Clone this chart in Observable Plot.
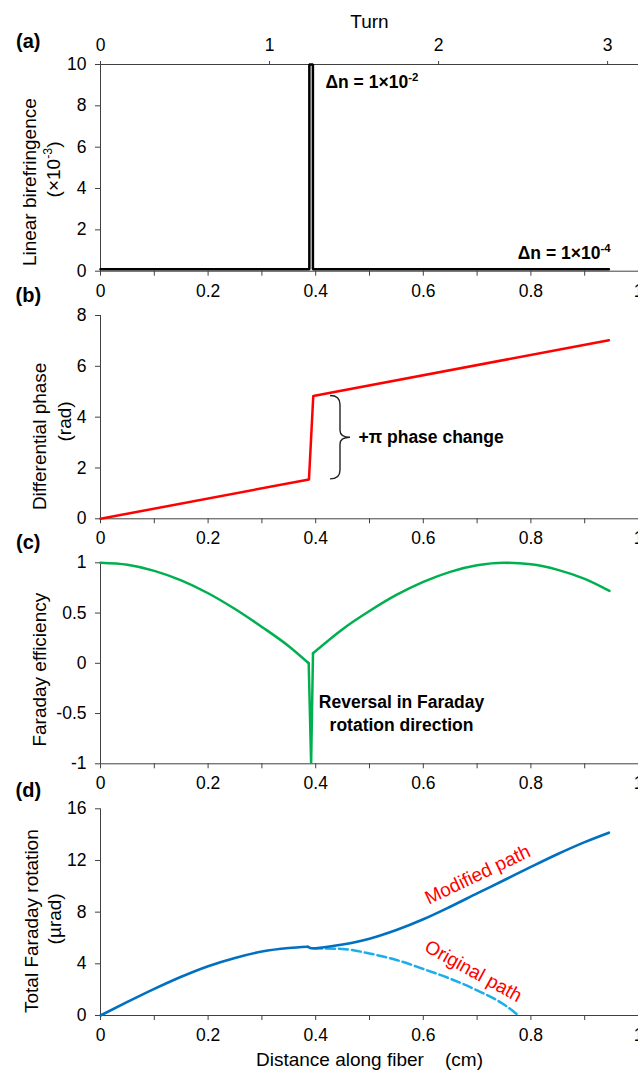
<!DOCTYPE html>
<html><head><meta charset="utf-8">
<script src="https://cdn.jsdelivr.net/npm/d3@7"></script>
<script src="https://cdn.jsdelivr.net/npm/@observablehq/plot@0.6"></script>
<style>
html,body{margin:0;padding:0;overflow:hidden;background:#fff;}
#chart{position:relative;width:638px;height:1071px;}
#chart svg{position:absolute;left:0;}
</style></head><body><div id="chart"></div>
<script>
// ---------- data ----------
const xTickValues = [0,0.1,0.2,0.3,0.4,0.5,0.6,0.7,0.8,0.9,1];
const xTickLabels = ["0","","0.2","","0.4","","0.6","","0.8","","1"];
const turnTicks = [0,1,2,3];
const cmPerTurn = 0.3142;

// (a) linear birefringence (x10^-3)
const biX = [0,0.3882,0.3882,0.3948,0.3948,0.945];
const biY = [0.1,0.1,10,10,0.1,0.1];
const biTicks = [0,2,4,6,8,10];
const biTickLabels = ["0","2","4","6","8","10"];

// (b) differential phase (rad)
const phX = [0,0.3875,0.3955,0.945];
const phY = [0,1.55,4.83,7.03];
const phTicks = [0,2,4,6,8];
const phTickLabels = ["0","2","4","6","8"];

// (c) Faraday efficiency (before the twist, the reversal spike, after the twist)
const feBeforeX = [0,0.05,0.1,0.15,0.2,0.25,0.3,0.35,0.387];
const feBeforeY = [1,0.98,0.92,0.825,0.697,0.54,0.362,0.17,0.0];
const feSpikeX = [0.387,0.3915,0.395];
const feSpikeY = [0.0,-1,0.1];
const feAfterX = [0.395,0.45,0.5,0.55,0.6,0.65,0.7,0.75,0.8,0.85,0.9,0.946];
const feAfterY = [0.1,0.34,0.52,0.68,0.81,0.91,0.975,1.0,0.985,0.93,0.84,0.72];
const feTicks = [-1,-0.5,0,0.5,1];
const feTickLabels = ["-1","-0.5","0","0.5","1"];

// (d) total Faraday rotation (µrad)
const modBeforeX = [0,0.05,0.1,0.15,0.2,0.25,0.3,0.35,0.385];
const modBeforeY = [0,1.05,2.06,3.0,3.82,4.46,4.95,5.22,5.32];
const modDipX = [0.385,0.3915,0.4];
const modDipY = [5.32,5.2,5.21];
const modAfterX = [0.4,0.45,0.5,0.55,0.6,0.65,0.7,0.75,0.8,0.85,0.9,0.945];
const modAfterY = [5.21,5.5,5.95,6.62,7.45,8.42,9.45,10.47,11.5,12.5,13.42,14.15];
const origX = [0.395,0.45,0.5,0.55,0.6,0.65,0.7,0.75,0.777];
const origY = [5.2,5.15,4.8,4.3,3.6,2.85,1.95,0.85,0];
const frTicks = [0,4,8,12,16];
const frTickLabels = ["0","4","8","12","16"];

// ---------- helpers ----------
const FONT = '"Liberation Sans", Arial, Helvetica, sans-serif';
const AX = "#404040";
const chart = document.getElementById("chart");
const toRows = (xs, ys) => xs.map((x, i) => ({x, y: ys[i]}));

function yAxis(ticks, labels) {
  return Plot.axisY(ticks, {anchor: "left", tickSize: 5, tickPadding: 9, stroke: AX, fill: "#000",
    tickFormat: d => labels[ticks.indexOf(d)], label: null});
}
function xAxisBottom() {
  return Plot.axisX(xTickValues, {anchor: "bottom", tickSize: 5, tickPadding: 8, stroke: AX, fill: "#000",
    tickFormat: d => xTickLabels[xTickValues.indexOf(d)], label: null});
}
function panelLabel(s, dy) {
  return Plot.text([s], {text: d => d, frameAnchor: "top-left", lineAnchor: "middle", dx: -72.2, dy, fontSize: 20, fontWeight: "bold", textAnchor: "middle"});
}
function yTitle(s, dx, dy) {
  return Plot.text([s], {text: d => d, frameAnchor: "left", lineAnchor: "middle", rotate: -90, dx, dy, fontSize: 19, textAnchor: "middle"});
}
function tspan(txt) {
  const e = document.createElementNS("http://www.w3.org/2000/svg", "tspan");
  e.textContent = txt; return e;
}
function applySup(svg) {
  for (const t of svg.querySelectorAll("text")) {
    const s = t.textContent;
    if (!s.includes("^{")) continue;
    const fs = parseFloat(getComputedStyle(t).fontSize) || 17;
    t.textContent = "";
    const re = /\^\{([^}]*)\}/g; let last = 0, m, shifted = false;
    while ((m = re.exec(s))) {
      if (m.index > last) {
        const sp = tspan(s.slice(last, m.index));
        if (shifted) { sp.setAttribute("dy", 0.38 * fs); shifted = false; }
        t.append(sp);
      }
      const sup = tspan(m[1]);
      sup.setAttribute("dy", -0.38 * fs);
      sup.setAttribute("font-size", 0.65 * fs);
      t.append(sup); shifted = true; last = re.lastIndex;
    }
    if (last < s.length) {
      const sp = tspan(s.slice(last));
      if (shifted) sp.setAttribute("dy", 0.38 * fs);
      t.append(sp);
    }
  }
}
function panel({top, height, plotTop, plotBottom, yDomain, marks}) {
  const svg = Plot.plot({
    width: 638, height,
    marginLeft: 100, marginRight: 0,
    marginTop: plotTop - top, marginBottom: top + height - plotBottom,
    x: {domain: [0, 1], axis: null},
    y: {domain: yDomain, axis: null},
    style: {fontSize: "17.5px", fontFamily: FONT, background: "transparent", color: "#000", overflow: "visible"},
    marks
  });
  svg.style.top = top + "px";
  chart.append(svg);
  applySup(svg);
}

// ---------- (a) ----------
panel({top: 0, height: 300, plotTop: 64, plotBottom: 270.7, yDomain: [0, 10], marks: [
  Plot.ruleX([0], {stroke: AX}),
  Plot.ruleY([0], {stroke: AX}),
  Plot.ruleY([10], {stroke: AX}),
  yAxis(biTicks, biTickLabels),
  xAxisBottom(),
  Plot.axisX(turnTicks.map(t => t * cmPerTurn), {anchor: "top", tickSize: 4, tickPadding: 10, stroke: AX, fill: "#000",
    tickFormat: d => String(Math.round(d / cmPerTurn)), label: null}),
  Plot.text(["Turn"], {text: d => d, frameAnchor: "top", lineAnchor: "middle", dy: -42.5, fontSize: 19}),
  Plot.line(toRows(biX, biY), {x: "x", y: "y", stroke: "#000", strokeWidth: 2.5, strokeLinejoin: "miter"}),
  Plot.text(["Δn = 1×10^{-2}"], {text: d => d, x: 0.4182, y: 9.15, textAnchor: "start", fontSize: 17.5, fontWeight: "bold"}),
  Plot.text(["Δn = 1×10^{-4}"], {text: d => d, x: 0.948, y: 0.88, textAnchor: "end", fontSize: 17.5, fontWeight: "bold"}),
  panelLabel("(a)", -22.7),
  yTitle("Linear birefringence", -70.8, 14.3),
  yTitle("(×10^{-3})", -47, 1.6)
]});

// ---------- (b) ----------
const braceX = 0.4275;
function brace(index, scales) {
  const x0 = scales.x(braceX);
  const yT = scales.y(phY[2]);
  const yB = scales.y(phY[1]);
  const yM = (yT + yB) / 2;
  const w = 20, h = w / 2;
  const d = `M${x0},${yT} Q${x0 + h},${yT} ${x0 + h},${yT + 9} L${x0 + h},${yM - 7} Q${x0 + h},${yM} ${x0 + w},${yM} Q${x0 + h},${yM} ${x0 + h},${yM + 7} L${x0 + h},${yB - 9} Q${x0 + h},${yB} ${x0},${yB}`;
  return d3.create("svg:path").attr("d", d).attr("fill", "none").attr("stroke", "#222").attr("stroke-width", 1.4).node();
}
panel({top: 270, height: 280, plotTop: 315, plotBottom: 518.3, yDomain: [0, 8], marks: [
  Plot.ruleX([0], {stroke: AX}),
  Plot.ruleY([0], {stroke: AX}),
  yAxis(phTicks, phTickLabels),
  xAxisBottom(),
  Plot.line(toRows(phX, phY), {x: "x", y: "y", stroke: "#ff0000", strokeWidth: 2.5}),
  brace,
  Plot.text(["+π phase change"], {text: d => d, x: 0.4796, y: 3.21, textAnchor: "start", fontSize: 17.5, fontWeight: "bold"}),
  panelLabel("(b)", -19.5),
  yTitle("Differential phase", -61, 19.2),
  yTitle("(rad)", -35.3, 4.3)
]});

// ---------- (c) ----------
const GREEN = "#00b050";
panel({top: 520, height: 280, plotTop: 562.3, plotBottom: 763.3, yDomain: [-1, 1], marks: [
  Plot.ruleX([0], {stroke: AX}),
  Plot.ruleY([-1], {stroke: AX}),
  yAxis(feTicks, feTickLabels),
  xAxisBottom(),
  Plot.line(toRows(feBeforeX, feBeforeY), {x: "x", y: "y", stroke: GREEN, strokeWidth: 2.5, curve: "monotone-x"}),
  Plot.line(toRows(feSpikeX, feSpikeY), {x: "x", y: "y", stroke: GREEN, strokeWidth: 2.5, strokeLinejoin: "miter"}),
  Plot.line(toRows(feAfterX, feAfterY), {x: "x", y: "y", stroke: GREEN, strokeWidth: 2.5, curve: "monotone-x"}),
  Plot.text(["Reversal in Faraday\nrotation direction"], {text: d => d, x: 0.5595, y: -0.483, textAnchor: "middle", lineHeight: 1.335, fontSize: 17.5, fontWeight: "bold"}),
  panelLabel("(c)", -20),
  yTitle("Faraday efficiency", -60.3, 6.4)
]});

// ---------- (d) ----------
const BLUE = "#0070c0";
panel({top: 770, height: 301, plotTop: 808.3, plotBottom: 1015, yDomain: [0, 16], marks: [
  Plot.ruleX([0], {stroke: AX}),
  Plot.ruleY([0], {stroke: AX}),
  yAxis(frTicks, frTickLabels),
  xAxisBottom(),
  Plot.line(toRows(origX, origY), {x: "x", y: "y", stroke: "#1aaeea", strokeWidth: 2.5, strokeDasharray: "9,4", curve: "monotone-x"}),
  Plot.line(toRows(modBeforeX, modBeforeY), {x: "x", y: "y", stroke: BLUE, strokeWidth: 2.6, curve: "monotone-x"}),
  Plot.line(toRows(modDipX, modDipY), {x: "x", y: "y", stroke: BLUE, strokeWidth: 2.6}),
  Plot.line(toRows(modAfterX, modAfterY), {x: "x", y: "y", stroke: BLUE, strokeWidth: 2.6, curve: "monotone-x"}),
  Plot.text(["Modified path"], {text: d => d, x: 0.701, y: 10.89, rotate: -25.5, fill: "#ff0000", fontSize: 19}),
  Plot.text(["Original path"], {text: d => d, x: 0.693, y: 3.43, rotate: 28.8, fill: "#ff0000", fontSize: 19}),
  Plot.text(["Distance along fiber    (cm)"], {text: d => d, frameAnchor: "bottom", lineAnchor: "middle", dy: 44.7, fontSize: 19}),
  panelLabel("(d)", -18.5),
  yTitle("Total Faraday rotation", -69, 9),
  yTitle("(µrad)", -46, 6.7)
]});
</script>
</body></html>
